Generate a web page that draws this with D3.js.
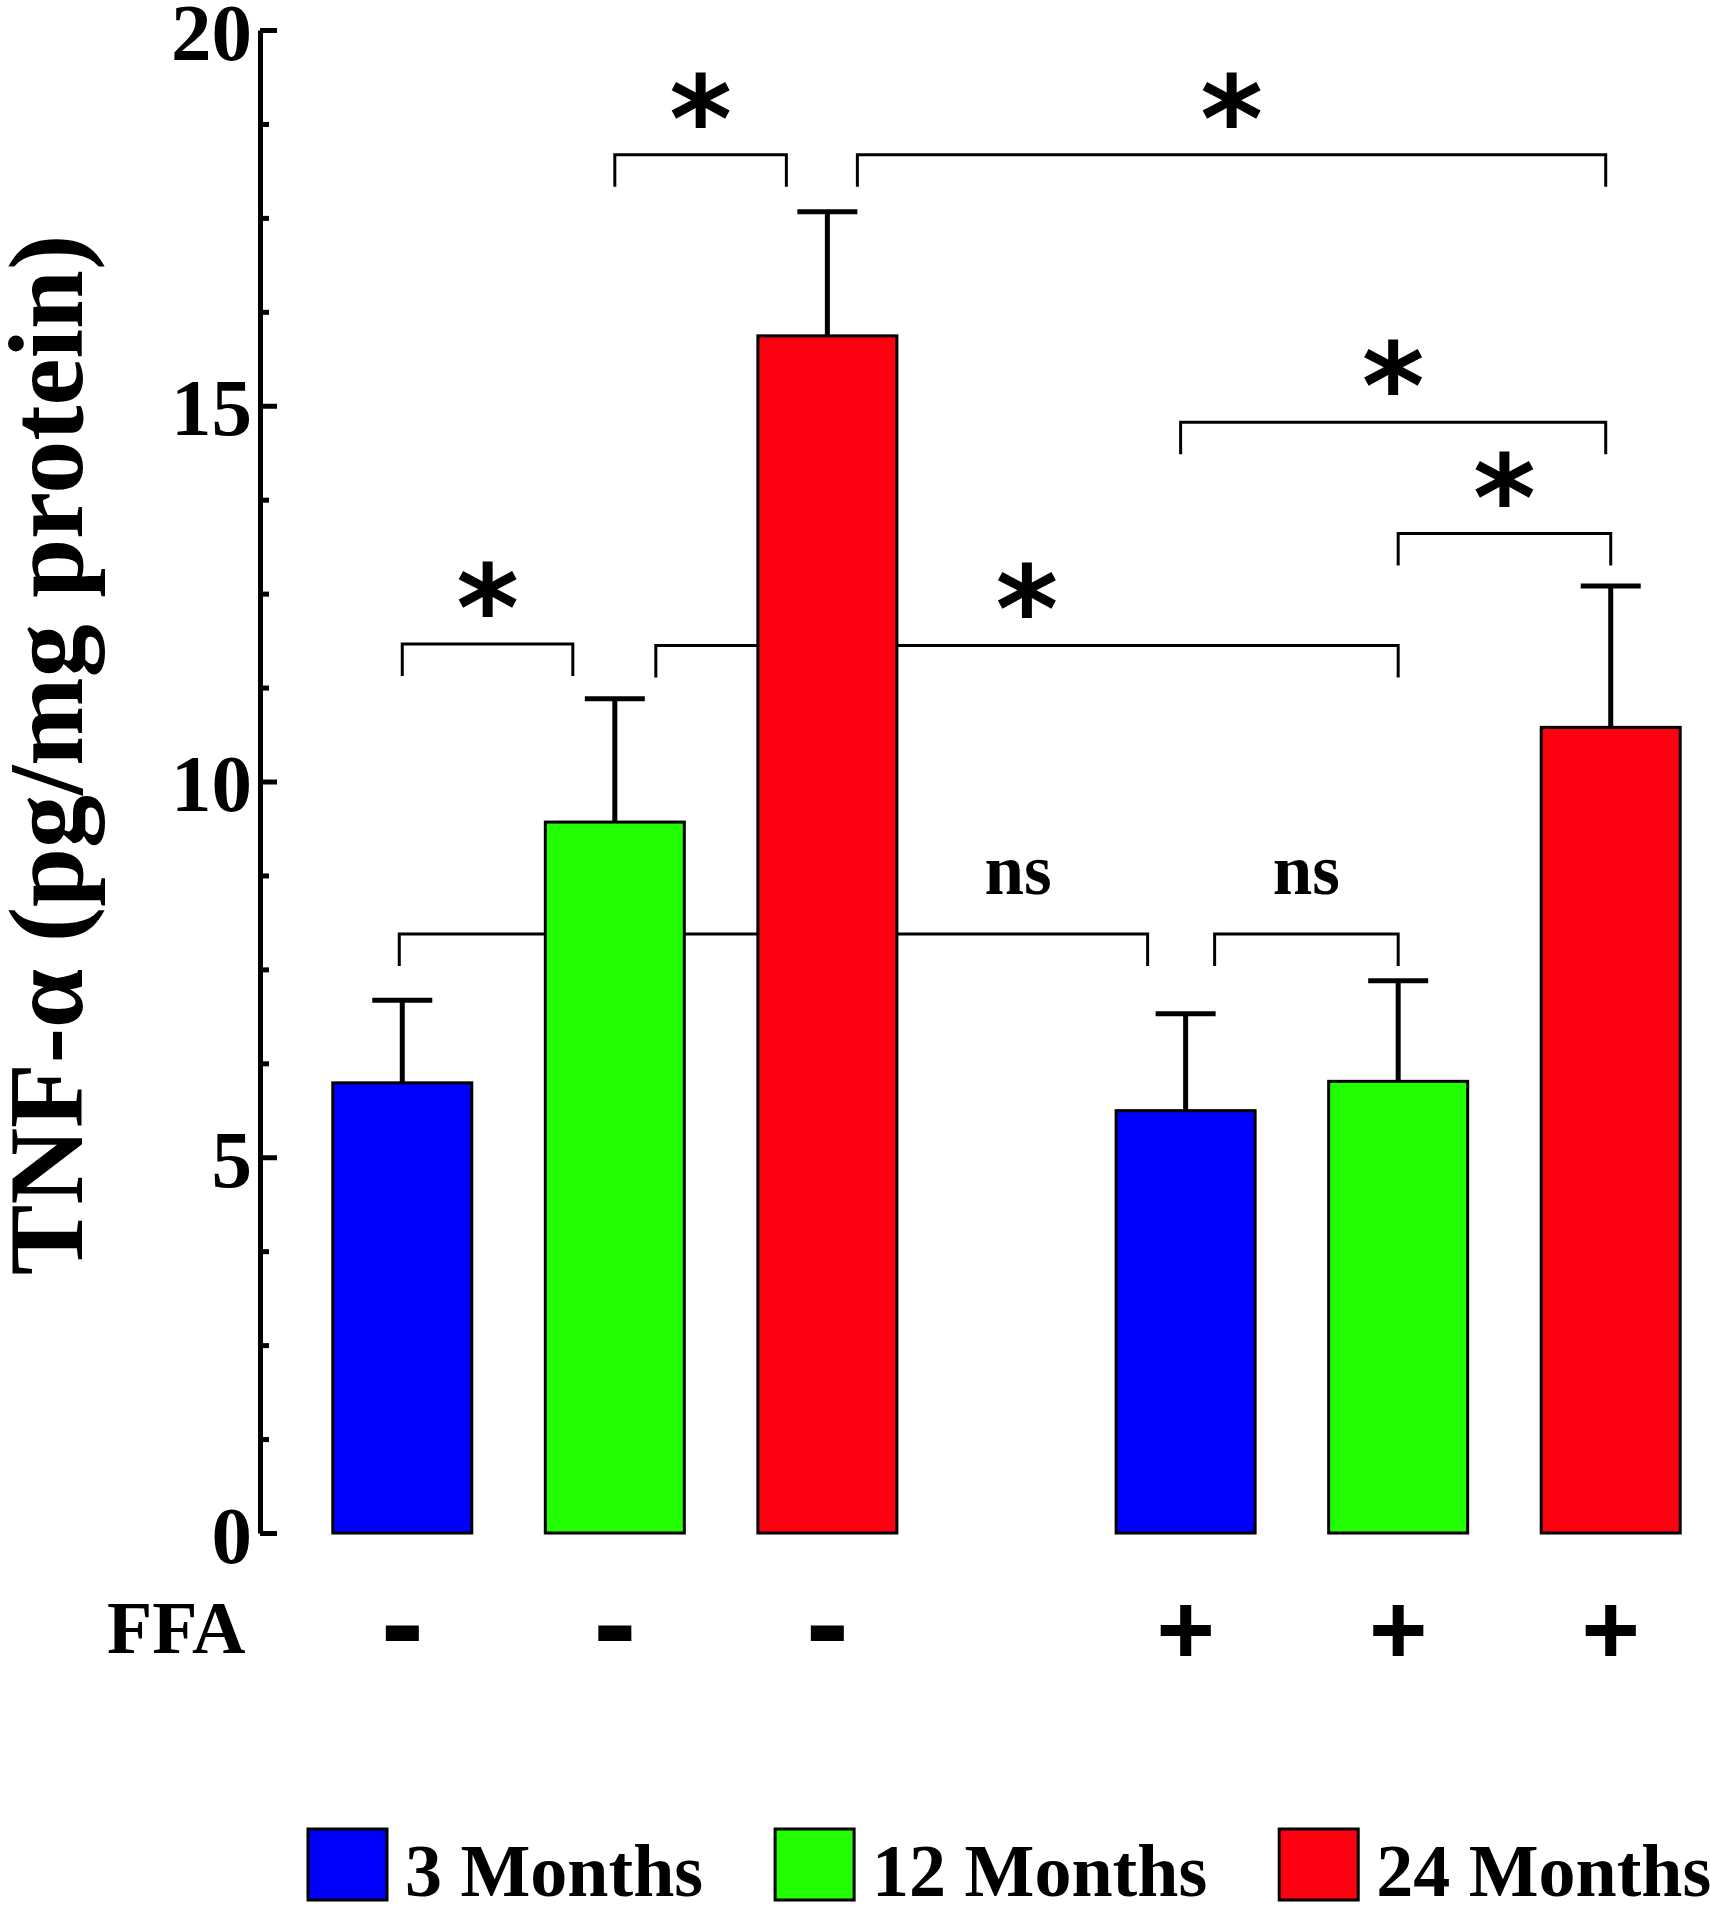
<!DOCTYPE html>
<html>
<head>
<meta charset="utf-8">
<script src="https://cdn.jsdelivr.net/npm/d3@7"></script>
<style>
  body { margin: 0; background: #fff; }
  svg { display: block; }
  text { font-family: "Liberation Serif", "Times New Roman", serif; font-weight: bold; fill: #000; }
</style>
</head>
<body>
<div id="chart"></div>
<script>
// TNF-alpha by age group, without / with FFA
const ffaGroups = ['-', '+'];
const ageGroups = ['3 Months', '12 Months', '24 Months'];
const ageColors = ['#0000ff', '#22ff00', '#ff0010'];

const meanNoFFA = [5.99, 9.46, 15.93];
const meanFFA = [5.62, 6.01, 10.72];
const errNoFFA = [1.10, 1.64, 1.65];
const errFFA = [1.29, 1.34, 1.88];

const yTicks = [0, 5, 10, 15, 20];

// significance brackets: bar indices 0..5, level in data units
const bracketFrom = [0, 1, 0, 3, 1, 2, 3, 4];
const bracketTo = [1, 4, 3, 4, 2, 5, 5, 5];
const bracketLevel = [11.83, 11.81, 7.97, 7.97, 18.34, 18.34, 14.78, 13.30];
const bracketLabel = ['*', '*', 'ns', 'ns', '*', '*', '*', '*'];

// small nudges of bracket ends so they clear the error caps
const nudgeFrom = [0, 41, -3, 29, 0, 30, -5, 0];
const nudgeTo = [-42, 0, -38, 0, -41, -5, -5, 0];

const W = 1710, H = 1913;
const svg = d3.select('#chart').append('svg')
  .attr('width', W)
  .attr('height', H);

// scales
const y = d3.scaleLinear().domain([0, 20]).range([1533, 30]);
const xGroup = d3.scaleBand().domain(ffaGroups).range([296, 1717]).paddingInner(0.186);
const xAge = d3.scaleBand().domain(ageGroups)
  .range([0, xGroup.bandwidth()])
  .paddingInner(0.346).paddingOuter(0.173);

const bars = [];
ffaGroups.forEach((g, gi) => {
  ageGroups.forEach((a, ai) => {
    bars.push({
      group: g,
      age: a,
      color: ageColors[ai],
      mean: gi === 0 ? meanNoFFA[ai] : meanFFA[ai],
      err: gi === 0 ? errNoFFA[ai] : errFFA[ai]
    });
  });
});
const cx = d => xGroup(d.group) + xAge(d.age) + xAge.bandwidth() / 2;

// brackets (drawn first, bars cover them)
const brackets = bracketFrom.map((f, i) => ({
  x1: cx(bars[f]) + nudgeFrom[i],
  x2: cx(bars[bracketTo[i]]) + nudgeTo[i],
  level: bracketLevel[i],
  label: bracketLabel[i],
  i: i
}));
const legLen = 32;

const bg = svg.append('g').attr('class', 'brackets');
bg.selectAll('path')
  .data(brackets)
  .enter().append('path')
  .attr('fill', 'none')
  .attr('stroke', '#000')
  .attr('stroke-width', 3)
  .attr('d', d => `M${d.x1},${y(d.level) + legLen}V${y(d.level)}H${d.x2}V${y(d.level) + legLen}`);

// ns label of the long bracket sits in the gap between the groups
const labelX = d => d.i === 2 ? 1018 : (d.x1 + d.x2) / 2;

bg.selectAll('text.star')
  .data(brackets.filter(d => d.label === '*'))
  .enter().append('text')
  .attr('class', 'star')
  .attr('x', d => (d.x1 + d.x2) / 2)
  .attr('y', d => y(d.level) + 6)
  .attr('text-anchor', 'middle')
  .style('font-family', '"DejaVu Sans", sans-serif')
  .style('font-size', '120px')
  .text(d => d.label);

bg.selectAll('text.ns')
  .data(brackets.filter(d => d.label === 'ns'))
  .enter().append('text')
  .attr('class', 'ns')
  .attr('x', labelX)
  .attr('y', d => y(d.level) - 40)
  .attr('text-anchor', 'middle')
  .style('font-size', '71px')
  .text(d => d.label);

// bars
svg.append('g').selectAll('rect')
  .data(bars)
  .enter().append('rect')
  .attr('x', d => xGroup(d.group) + xAge(d.age))
  .attr('y', d => y(d.mean))
  .attr('width', xAge.bandwidth())
  .attr('height', d => y(0) - y(d.mean))
  .attr('fill', d => d.color)
  .attr('stroke', '#000')
  .attr('stroke-width', 3);

// error bars (upper only)
const capW = 60;
const eg = svg.append('g').attr('class', 'errors');
eg.selectAll('path')
  .data(bars)
  .enter().append('path')
  .attr('fill', 'none')
  .attr('stroke', '#000')
  .attr('stroke-width', 5)
  .attr('d', d => `M${cx(d)},${y(d.mean)}V${y(d.mean + d.err)}M${cx(d) - capW / 2},${y(d.mean + d.err)}H${cx(d) + capW / 2}`);

// y axis: ticks point inward
const xAxis0 = 260;
const axisG = svg.append('g').attr('transform', `translate(${xAxis0},0)`);
axisG.call(d3.axisLeft(y)
  .tickValues(yTicks)
  .tickSizeInner(-17)
  .tickSizeOuter(0)
  .tickPadding(8));
axisG.select('.domain').attr('stroke-width', 5);
axisG.selectAll('.tick line').attr('stroke-width', 5);
axisG.selectAll('.tick text')
  .style('font-family', '"Liberation Serif", "Times New Roman", serif')
  .style('font-weight', 'bold')
  .style('font-size', '81px')
  .attr('dy', '0.36em')
  .attr('fill', '#000');

const minorTicks = d3.range(0, 20.01, 1.25).filter(v => v % 5 !== 0);
const minorG = svg.append('g').attr('transform', `translate(${xAxis0},0)`);
minorG.call(d3.axisLeft(y).tickValues(minorTicks).tickSizeInner(-9).tickSizeOuter(0).tickFormat(''));
minorG.select('.domain').remove();
minorG.selectAll('.tick line').attr('stroke-width', 5);

// y axis title
svg.append('text')
  .attr('transform', `translate(82,${755}) rotate(-90)`)
  .attr('text-anchor', 'middle')
  .style('font-size', '106px')
  .text('TNF-\u03b1 (pg/mg protein)');

// FFA row
svg.append('text')
  .attr('x', 107)
  .attr('y', 1653)
  .style('font-size', '74px')
  .text('FFA');

svg.append('g').selectAll('text')
  .data(bars)
  .enter().append('text')
  .attr('x', d => cx(d))
  .attr('y', d => d.group === '-' ? 1667 : 1664)
  .attr('text-anchor', 'middle')
  .style('font-family', '"Liberation Sans", Arial, sans-serif')
  .style('font-size', d => d.group === '-' ? '130px' : '100px')
  .text(d => d.group);

// legend
const legend = svg.append('g').attr('class', 'legend');
let lx = 308;
ageGroups.forEach((a, i) => {
  legend.append('rect')
    .attr('x', lx)
    .attr('y', 1829)
    .attr('width', 79)
    .attr('height', 71)
    .attr('fill', ageColors[i])
    .attr('stroke', '#000')
    .attr('stroke-width', 3);
  const t = legend.append('text')
    .attr('x', lx + 97)
    .attr('y', 1896)
    .style('font-size', '74px')
    .text(a);
  lx = lx + 97 + t.node().getComputedTextLength() + 72;
});
</script>
</body>
</html>
